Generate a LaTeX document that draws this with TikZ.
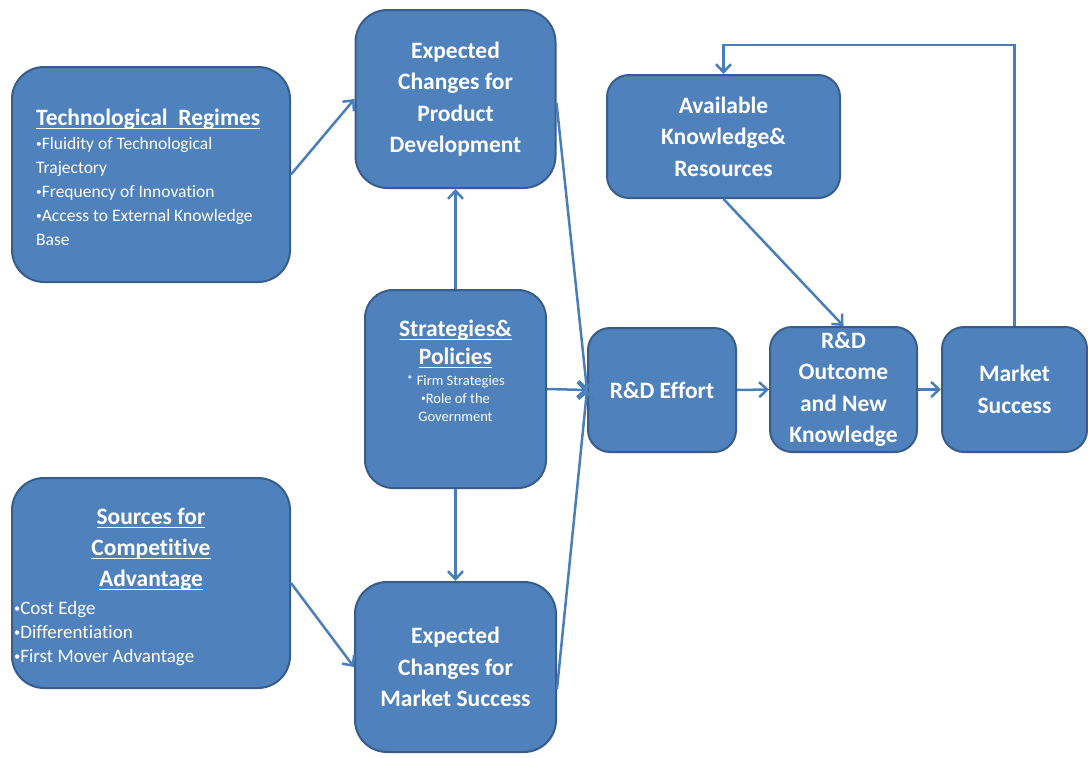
\documentclass[tikz,border=0pt]{standalone}
\usepackage{fontspec}
\setmainfont{Carlito}[Ligatures=NoCommon]
\usetikzlibrary{arrows.meta}
\definecolor{boxfill}{HTML}{4F81BD}
\definecolor{boxline}{HTML}{385D8A}
\definecolor{conncol}{HTML}{4A7EBB}
\newcommand\myul[1]{\setbox0\hbox{#1}\rlap{\rule[-4pt]{\wd0}{1.5pt}}\box0}
\newcommand\bul{\raisebox{0.12em}{\scalebox{0.65}{•}}}
\begin{document}
\begin{tikzpicture}[x=1pt,y=-1pt,
  box/.style={draw=boxline, line width=2pt, fill=boxfill, text=white, align=center,
    inner sep=0pt, font=\bfseries\fontsize{23.5}{31.5}\selectfont},
  bigr/.style={rounded corners=32pt},
  smallr/.style={rounded corners=22pt},
  txt/.style={text=white, inner sep=0pt},
  ttl/.style={txt, align=center, font=\bfseries\fontsize{23.5}{31}\selectfont},
  conn/.style={draw=conncol, line width=2.5pt, -{Straight Barb[length=8pt,width=15pt]}}]
\useasboundingbox (0,0) rectangle (1088,758);

% boxes
\node[box, bigr, minimum width=278pt, minimum height=215pt] (tr) at (151,174.5) {};
\node[box, bigr, minimum width=278pt, minimum height=210pt] (sca) at (151,583) {};
\node[box, bigr, minimum width=200pt, minimum height=178pt] (ecpd) at (455.5,99)
  {Expected\\Changes for\\Product\\Development};
\node[box, bigr, minimum width=181pt, minimum height=198pt, rounded corners=28pt] (sp) at (455.5,389) {};
\node[box, bigr, minimum width=201pt, minimum height=170pt] (ecms) at (455.5,667)
  {Expected\\Changes for\\Market Success};
\node[box, smallr, minimum width=148pt, minimum height=124pt] (rde) at (662,390) {R\&D Effort};
\node[box, smallr, minimum width=233pt, minimum height=123pt] (akr) at (723.5,136.5)
  {Available\\Knowledge\&\\Resources};
\node[box, smallr, minimum width=147pt, minimum height=125pt] (rdo) at (843.5,389.5)
  {R\&D\\Outcome\\and New\\Knowledge};
\node[box, smallr, minimum width=145pt, minimum height=125pt] (ms) at (1014.5,389.5)
  {Market\\Success};

% texts of the boxes with headings
\node[txt, anchor=west, align=left, font=\fontsize{17.5}{24}\selectfont] (trt) at (36,177)
  {{\bfseries\fontsize{23.5}{28}\selectfont\myul{Technological\ \ Regimes}}\\
   \bul Fluidity of Technological\\Trajectory\\\bul Frequency of Innovation\\
   \bul Access to External Knowledge\\Base};
\node[ttl] (scat) at (151,549)
  {\myul{Sources for}\\\myul{Competitive}\\\myul{Advantage}};
\node[txt, anchor=west, align=left, font=\fontsize{19}{24}\selectfont] (scab) at (14,634)
  {\bul Cost Edge\\\bul Differentiation\\\bul First Mover Advantage};
\node[ttl, font=\bfseries\fontsize{23.5}{28}\selectfont] (spt) at (455.5,344)
  {\myul{Strategies\&}\\\myul{Policies}};
\node[txt, align=center, font=\fontsize{14.5}{18}\selectfont] (spb) at (455.5,398)
  {* Firm Strategies\\\bul Role of the\\Government};

% connectors
\draw[conn] (tr.east) -- (ecpd.west);
\draw[conn] (sca.east) -- (ecms.west);
\draw[conn] (sp.north) -- (ecpd.south);
\draw[conn] (sp.south) -- (ecms.north);
\draw[conn] ([yshift=-4pt]ecpd.east) -- (rde.west);
\draw[conn] (sp.east) -- (rde.west);
\draw[conn] ([yshift=-22pt]ecms.east) -- (rde.west);
\draw[conn] (rde.east) -- (rdo.west);
\draw[conn] (rdo.east) -- (ms.west);
\draw[conn] (akr.south) -- (rdo.north);
\coordinate (fb) at (723.5,45);
\draw[conn] (ms.north) |- (fb) -- (akr.north);
\end{tikzpicture}
\end{document}
